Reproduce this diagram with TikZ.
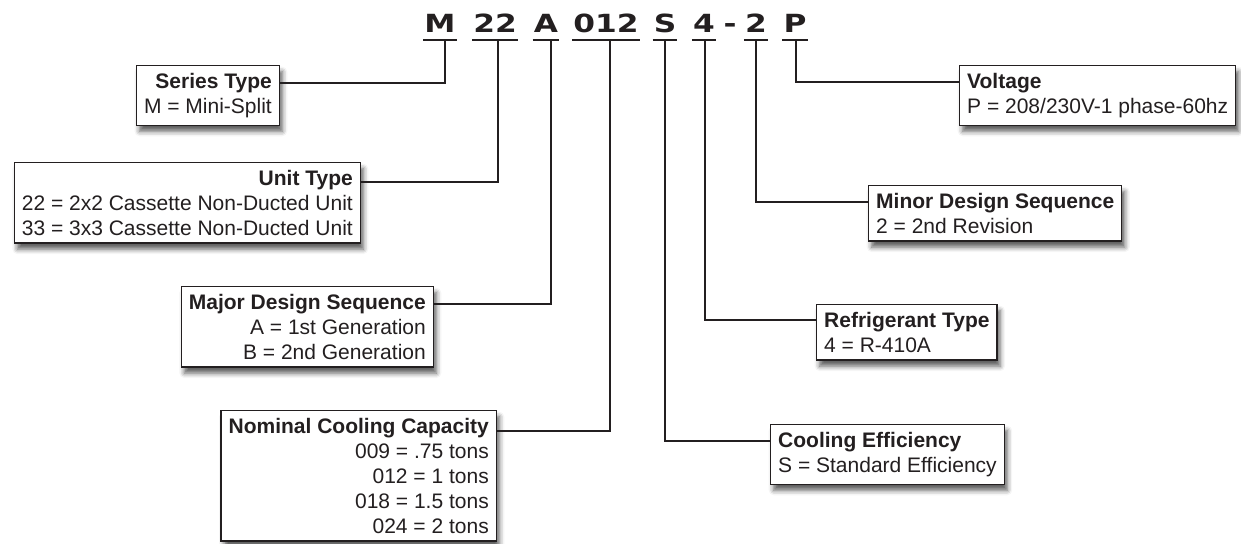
\documentclass[tikz,border=0pt]{standalone}
\usepackage{fontspec}
\usepackage{graphicx}
\setmainfont{Liberation Sans}
\newfontfamily\hdrfont{DejaVu Sans}
\usetikzlibrary{shadows.blur}
\definecolor{ink}{HTML}{231F20}
\tikzset{
  box/.style={draw=ink, line width=1.4pt, fill=white, inner xsep=7.5pt, inner ysep=7.5pt,
    font=\fontsize{21}{25}\selectfont, text=ink,
    blur shadow={shadow xshift=3pt, shadow yshift=-6pt, shadow blur radius=5pt, shadow opacity=65}},
  lbox/.style={box, align=right, anchor=north east},
  rbox/.style={box, align=left, anchor=north west},
  hdr/.style={font=\hdrfont\bfseries\fontsize{25}{25}\selectfont, text=ink, inner sep=0pt, anchor=base},
  uline/.style={draw=ink, line width=2pt},
  conn/.style={draw=ink, line width=2.2pt},
}
\begin{document}
\begin{tikzpicture}[x=1pt,y=-1pt]
\useasboundingbox (0,0) rectangle (1241,543);
% header code
\node[hdr] (hM) at (440,33) {\scalebox{1.25}[1]{M}};
\node[hdr] (h22) at (495,33) {\scalebox{1.25}[1]{22}};
\node[hdr] (hA) at (546,33) {\scalebox{1.25}[1]{A}};
\node[hdr] (h012) at (606,33) {\scalebox{1.25}[1]{012}};
\node[hdr] (hS) at (665,33) {\scalebox{1.25}[1]{S}};
\node[hdr] (h4) at (704,33) {\scalebox{1.25}[1]{4}};
\node[hdr] (hd) at (730,33) {\scalebox{1.25}[1]{-}};
\node[hdr] (h2) at (756,33) {\scalebox{1.25}[1]{2}};
\node[hdr] (hP) at (795,33) {\scalebox{1.25}[1]{P}};
\foreach \n in {hM,h22,hA,h012,hS,h4,h2,hP}
  \draw[uline] ([yshift=-7pt,xshift=-1pt]\n.base west) -- ([yshift=-7pt,xshift=1pt]\n.base east);
\coordinate (sM) at (445,40);
\coordinate (s22) at (498,40);
\coordinate (sA) at (551,40);
\coordinate (s012) at (610,40);
\coordinate (sS) at (665,40);
\coordinate (s4) at (705,40);
\coordinate (s2) at (756,40);
\coordinate (sP) at (796,40);
% boxes
\node[lbox] (series) at (280,65) {\textbf{Series Type}\\M = Mini-Split};
\node[lbox] (unit) at (361,162) {\textbf{Unit Type}\\22 = 2x2 Cassette Non-Ducted Unit\\33 = 3x3 Cassette Non-Ducted Unit};
\node[lbox] (major) at (434,286) {\textbf{Major Design Sequence}\\A = 1st Generation\\B = 2nd Generation};
\node[lbox] (nominal) at (497,410) {\textbf{Nominal Cooling Capacity}\\009 = .75 tons\\012 = 1 tons\\018 = 1.5 tons\\024 = 2 tons};
\node[rbox] (voltage) at (959,65) {\textbf{Voltage}\\P = 208/230V-1 phase-60hz};
\node[rbox] (minor) at (868,185) {\textbf{Minor Design Sequence}\\2 = 2nd Revision};
\node[rbox] (refrig) at (816,304) {\textbf{Refrigerant Type}\\4 = R-410A};
\node[rbox] (cooling) at (770,424) {\textbf{Cooling Efficiency}\\S = Standard Efficiency};
% connectors
\draw[conn] ([yshift=-18pt]series.north east) -| (sM);
\draw[conn] ([yshift=-20pt]unit.north east) -| (s22);
\draw[conn] ([yshift=-18pt]major.north east) -| (sA);
\draw[conn] ([yshift=-21pt]nominal.north east) -| (s012);
\draw[conn] ([yshift=-17pt]cooling.north west) -| (sS);
\draw[conn] ([yshift=-16pt]refrig.north west) -| (s4);
\draw[conn] ([yshift=-17pt]minor.north west) -| (s2);
\draw[conn] ([yshift=-17pt]voltage.north west) -| (sP);
\end{tikzpicture}
\end{document}
